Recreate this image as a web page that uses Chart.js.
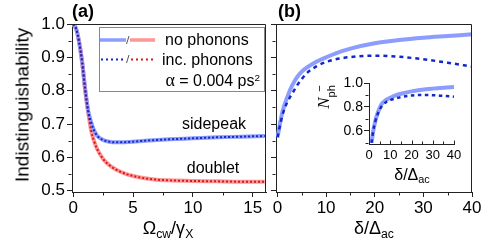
<!DOCTYPE html>
<html>
<head>
<meta charset="utf-8">
<script src="https://cdn.jsdelivr.net/npm/chart.js@4.4.1/dist/chart.umd.min.js"></script>
<style>
  body { margin: 0; background: #fff; }
  #wrap { position: relative; width: 498px; height: 242px; overflow: hidden;
          font-family: "Liberation Sans", Arial, sans-serif; color: #000; }
  canvas { position: absolute; }
  .t { position: absolute; white-space: nowrap; line-height: 1; }
  .c { transform: translate(-50%, -50%); }
  .lm { transform: translate(0, -50%); }
  .rm { transform: translate(-100%, -50%); }
  .sub { font-size: 0.68em; vertical-align: -0.32em; }
  .sup { font-size: 0.62em; vertical-align: 0.55em; }
</style>
</head>
<body>
<div id="wrap">
  <canvas id="chartA" width="270" height="242" style="left:0;top:0;width:270px;height:242px"></canvas>
  <canvas id="chartB" width="228" height="242" style="left:270px;top:0;width:228px;height:242px"></canvas>
  <canvas id="chartC" width="140" height="100" style="left:330px;top:70px;width:140px;height:100px"></canvas>

  <div class="t" style="left:72px;top:2px;font-size:18px;font-weight:bold">(a)</div>
  <div class="t" style="left:278px;top:2px;font-size:18px;font-weight:bold">(b)</div>
  <div class="t c" style="left:22px;top:105px;font-size:19px;transform:translate(-50%,-50%) rotate(-90deg)">Indistinguishability</div>
  <div class="t c" style="left:168px;top:230px;font-size:18px">Ω<span class="sub">cw</span>/γ<span class="sub">X</span></div>
  <div class="t c" style="left:374px;top:230px;font-size:18px">δ/Δ<span class="sub">ac</span></div>
  <div class="t c" style="left:412px;top:176px;font-size:16px">δ/Δ<span class="sub">ac</span></div>
  <div class="t c" style="left:325px;top:97px;font-size:17px;transform:translate(-50%,-50%) rotate(-90deg)"><i style="font-family:'Liberation Serif',serif">N</i><span style="display:inline-block;vertical-align:middle;font-size:11px;line-height:1;text-align:right"><span style="display:block">−</span><span style="display:block;margin-top:1px">ph</span></span></div>

  <div class="t c" style="left:214px;top:124px;font-size:16px">sidepeak</div>
  <div class="t c" style="left:213px;top:168px;font-size:16px">doublet</div>

  <div class="t lm" style="left:165px;top:40px;font-size:16px">no phonons</div>
  <div class="t lm" style="left:162px;top:60px;font-size:16px">inc. phonons</div>
  <div class="t rm" style="left:260px;top:80px;font-size:16px"><span style="font-family:'Liberation Serif',serif;font-size:18px">α</span> = 0.004 ps<span class="sup">2</span></div>
</div>

<script>
// panel (a): indistinguishability vs Omega_cw / gamma_X
const omegaX = [0, 0.25, 0.5, 0.75, 1, 1.25, 1.5, 1.75, 2, 2.5, 3, 3.5, 4, 4.5, 5, 6, 7, 8, 10, 12, 14, 16];
const sidepeakNoPh  = [1.0, 0.985, 0.945, 0.885, 0.805, 0.74, 0.705, 0.68, 0.665, 0.652, 0.647, 0.645, 0.645, 0.646, 0.647, 0.65, 0.652, 0.654, 0.657, 0.66, 0.662, 0.664];
const sidepeakIncPh = [1.0, 0.985, 0.945, 0.885, 0.805, 0.74, 0.705, 0.68, 0.665, 0.652, 0.647, 0.645, 0.645, 0.646, 0.647, 0.65, 0.652, 0.654, 0.657, 0.66, 0.662, 0.664];
const doubletNoPh   = [1.0, 0.985, 0.945, 0.885, 0.80, 0.735, 0.68, 0.648, 0.625, 0.595, 0.577, 0.565, 0.556, 0.549, 0.544, 0.537, 0.533, 0.531, 0.529, 0.528, 0.527, 0.527];
const doubletIncPh  = [1.0, 0.985, 0.945, 0.885, 0.80, 0.735, 0.68, 0.648, 0.625, 0.595, 0.577, 0.565, 0.556, 0.549, 0.544, 0.537, 0.533, 0.531, 0.529, 0.528, 0.527, 0.527];

// panel (b): sidepeak indistinguishability vs delta / Delta_ac
const deltaX   = [0, 1, 2, 3, 4, 5, 6, 8, 10, 12, 15, 20, 25, 30, 35, 40];
const bNoPh    = [0.66, 0.735, 0.78, 0.815, 0.84, 0.857, 0.869, 0.887, 0.90, 0.912, 0.926, 0.942, 0.952, 0.959, 0.964, 0.969];
const bIncPh   = [0.66, 0.725, 0.765, 0.79, 0.815, 0.835, 0.852, 0.873, 0.886, 0.894, 0.901, 0.905, 0.902, 0.894, 0.884, 0.872];

// inset: mean phonon number
const insetX     = [1.2, 2, 3, 4, 5, 6, 8, 10, 12, 15, 20, 25, 30, 35, 40];
const insetNoPh  = [0.5, 0.6, 0.685, 0.745, 0.79, 0.825, 0.858, 0.876, 0.893, 0.91, 0.93, 0.944, 0.953, 0.96, 0.966];
const insetIncPh = [0.5, 0.6, 0.68, 0.735, 0.775, 0.805, 0.84, 0.857, 0.868, 0.882, 0.895, 0.90, 0.898, 0.892, 0.886];

const yTicks      = [0.5, 0.6, 0.7, 0.8, 0.9, 1.0];
const yMinor      = [0.55, 0.65, 0.75, 0.85, 0.95];
const aXTicks     = [0, 5, 10, 15];
const aXMinor     = [2.5, 7.5, 12.5];
const bXTicks     = [0, 10, 20, 30, 40];
const bXMinor     = [5, 15, 25, 35];
const insetYTicks = [0.6, 0.8, 1.0];
const insetYMinor = [0.5, 0.7, 0.9];
const insetXTicks = [0, 10, 20, 30, 40];
const insetXMinor = [5, 15, 25, 35];

const BLUE_LIGHT = 'rgb(140,156,255)';
const RED_LIGHT  = 'rgb(255,150,150)';
const BLUE_DOT   = '#1328c8';
const RED_DOT    = '#d81818';

Chart.defaults.font.family = "'Liberation Sans', Arial, sans-serif";
Chart.defaults.color = '#000';

const pts = (xs, ys) => xs.map((x, i) => ({x, y: ys[i]}));

function solid(xs, ys, color) {
  return { data: pts(xs, ys), borderColor: color, borderWidth: 4, pointRadius: 0,
           cubicInterpolationMode: 'monotone', fill: false };
}
function dotted(xs, ys, color, dash, w) {
  return { data: pts(xs, ys), borderColor: color, borderWidth: w, borderDash: dash, pointRadius: 0,
           cubicInterpolationMode: 'monotone', fill: false };
}

// frame, minor ticks, inset ticks and legend samples
const decor = {
  id: 'decor',
  afterDraw(chart, args, o) {
    const ctx = chart.ctx, a = chart.chartArea;
    const xs = chart.scales.x, ys = chart.scales.y;
    ctx.save();
    ctx.strokeStyle = '#222';
    ctx.lineWidth = 1;
    const seg = (x1, y1, x2, y2) => { ctx.beginPath(); ctx.moveTo(x1, y1); ctx.lineTo(x2, y2); ctx.stroke(); };
    const L = Math.round(a.left) - 0.5, B = Math.round(a.bottom) + 0.5;
    if (o.box) {
      const T = Math.round(a.top) + 0.5, R = Math.round(a.right) - 0.5;
      seg(L, T, R, T);
      seg(R, T, R, B);
    }
    (o.yMinor || []).forEach(v => { const p = Math.round(ys.getPixelForValue(v)) + 0.5; seg(L, p, L - 3, p); });
    (o.xMinor || []).forEach(v => { const p = Math.round(xs.getPixelForValue(v)) + 0.5; seg(p, B, p, B + o.xDir * 3); });
    (o.xMajor || []).forEach(v => { const p = Math.round(xs.getPixelForValue(v)) + 0.5; seg(p, B, p, B + o.xDir * 4); });

    if (o.legend) {
      ctx.strokeStyle = '#888';
      ctx.strokeRect(99.5, 27.5, 165, 64);
      ctx.lineWidth = 3.5;
      ctx.strokeStyle = BLUE_LIGHT; seg(100, 40, 126, 40);
      ctx.strokeStyle = RED_LIGHT;  seg(130, 40, 155, 40);
      ctx.lineWidth = 2;
      ctx.setLineDash([2, 3]);
      ctx.strokeStyle = BLUE_DOT; seg(101, 59.5, 126, 59.5);
      ctx.strokeStyle = RED_DOT;  seg(131, 59.5, 156, 59.5);
      ctx.setLineDash([]);
      ctx.lineWidth = 1;
      ctx.strokeStyle = '#555';
      seg(126.5, 44, 129, 36);
      seg(126.5, 63, 129, 55);
    }
    ctx.restore();
  }
};

function axisX(min, max, ticks, height, fontSize, drawTicks, pad) {
  return {
    type: 'linear', min, max,
    afterBuildTicks: s => { s.ticks = ticks.map(v => ({value: v})); },
    afterFit: s => { s.height = height; },
    grid: { display: true, drawOnChartArea: false, drawTicks, tickLength: 5, color: '#222' },
    border: { display: true, color: '#222', width: 1 },
    ticks: { font: { size: fontSize }, padding: pad, maxRotation: 0, autoSkip: false, callback: v => String(v) }
  };
}
function axisY(min, max, ticks, width, fontSize, showLabels, pad) {
  return {
    type: 'linear', min, max,
    afterBuildTicks: s => { s.ticks = ticks.map(v => ({value: v})); },
    afterFit: s => { s.width = width; },
    grid: { display: true, drawOnChartArea: false, drawTicks: true, tickLength: 5, color: '#222' },
    border: { display: true, color: '#222', width: 1 },
    ticks: { display: showLabels, font: { size: fontSize }, padding: pad, callback: v => v.toFixed(1) }
  };
}

const common = {
  responsive: false, animation: false,
  events: []
};

new Chart(document.getElementById('chartA'), {
  type: 'line',
  data: { datasets: [
    dotted(omegaX, sidepeakIncPh, BLUE_DOT, [2, 2], 2),
    dotted(omegaX, doubletIncPh, RED_DOT, [2, 2], 2),
    solid(omegaX, sidepeakNoPh, BLUE_LIGHT),
    solid(omegaX, doubletNoPh, RED_LIGHT)
  ]},
  options: Object.assign({}, common, {
    layout: { padding: { top: 24, right: 4, left: 0, bottom: 0 } },
    scales: {
      x: axisX(-0.1, 16.1, aXTicks, 50, 17, true, 1),
      y: axisY(0.496, 1.0, yTicks, 72, 17, true, 2)
    },
    plugins: { legend: { display: false }, tooltip: { enabled: false },
               decor: { box: true, yMinor, xMinor: aXMinor, xDir: 1, legend: true } }
  }),
  plugins: [decor]
});

new Chart(document.getElementById('chartB'), {
  type: 'line',
  data: { datasets: [
    dotted(deltaX, bIncPh, BLUE_DOT, [4, 4], 2.5),
    solid(deltaX, bNoPh, BLUE_LIGHT)
  ]},
  options: Object.assign({}, common, {
    layout: { padding: { top: 24, right: 26, left: 0, bottom: 0 } },
    scales: {
      x: axisX(-0.3, 40, bXTicks, 50, 17, true, 1),
      y: axisY(0.496, 1.0, yTicks, 6, 17, false, 0)
    },
    plugins: { legend: { display: false }, tooltip: { enabled: false },
               decor: { box: true, yMinor, xMinor: bXMinor, xDir: 1 } }
  }),
  plugins: [decor]
});

new Chart(document.getElementById('chartC'), {
  type: 'line',
  data: { datasets: [
    dotted(insetX, insetIncPh, BLUE_DOT, [3.5, 3.5], 2.5),
    solid(insetX, insetNoPh, BLUE_LIGHT)
  ]},
  options: Object.assign({}, common, {
    layout: { padding: { top: 13, right: 16, left: 0, bottom: 0 } },
    scales: {
      x: axisX(0, 40, insetXTicks, 26, 13, false, 4),
      y: axisY(0.49, 1.0, insetYTicks, 39, 14, true, 1)
    },
    plugins: { legend: { display: false }, tooltip: { enabled: false },
               decor: { box: false, yMinor: insetYMinor, xMinor: insetXMinor, xMajor: insetXTicks, xDir: -1 } }
  }),
  plugins: [decor]
});
</script>
</body>
</html>
